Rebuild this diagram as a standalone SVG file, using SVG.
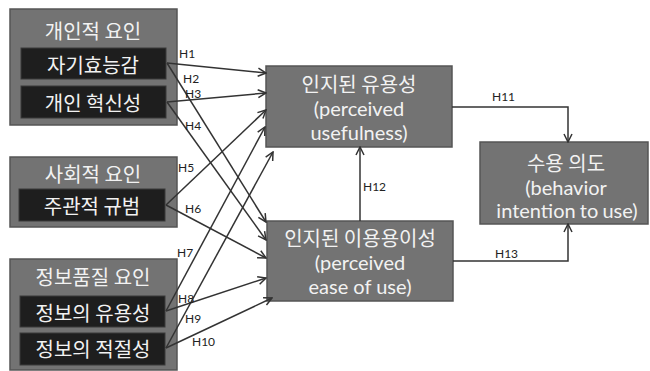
<svg xmlns="http://www.w3.org/2000/svg" width="650" height="371" viewBox="0 0 650 371">
<defs>
<style>
.box{fill:#737373;stroke:#555555;stroke-width:1.5}
.inner{fill:#1e1e1e;stroke:#3a3a3a;stroke-width:1}
.kt{font-family:"Noto Sans CJK KR",sans-serif;font-size:20px;fill:#f2f2f2;text-anchor:middle;dominant-baseline:central}
.lt{font-family:Lato,"Noto Sans CJK KR",sans-serif;font-size:20px;fill:#f2f2f2;text-anchor:middle;dominant-baseline:central}
.lbl{font-family:Lato,sans-serif;font-size:12px;fill:#222222}
.c{fill:none;stroke:#333333;stroke-width:1.5}
</style>
<marker id="ah" viewBox="0 0 10 10" refX="9" refY="5" markerWidth="10" markerHeight="10" markerUnits="userSpaceOnUse" orient="auto">
<path d="M1,1 L9,5 L1,9" fill="none" stroke="#333333" stroke-width="1.5"/>
</marker>
</defs>
<rect width="650" height="371" fill="#ffffff"/>
<g id="personal">
<rect class="box" x="10" y="9" width="167" height="116"/>
<text class="kt" x="93" y="30">개인적 요인</text>
<g id="self-efficacy"><rect class="inner" x="21" y="48" width="145" height="31"/><text class="kt" x="93" y="64">자기효능감</text></g>
<g id="innovativeness"><rect class="inner" x="21" y="86" width="145" height="32"/><text class="kt" x="93" y="102">개인 혁신성</text></g>
</g>
<g id="social">
<rect class="box" x="10" y="157" width="167" height="70"/>
<text class="kt" x="93" y="173">사회적 요인</text>
<g id="subjective-norm"><rect class="inner" x="19" y="189" width="146" height="32"/><text class="kt" x="92" y="205">주관적 규범</text></g>
</g>
<g id="infoquality">
<rect class="box" x="10" y="259" width="167" height="111"/>
<text class="kt" x="93" y="276">정보품질 요인</text>
<g id="info-usefulness"><rect class="inner" x="20" y="296" width="145" height="31"/><text class="kt" x="93" y="312">정보의 유용성</text></g>
<g id="info-relevance"><rect class="inner" x="20" y="333" width="145" height="32"/><text class="kt" x="93" y="348">정보의 적절성</text></g>
</g>
<g id="pu">
<rect class="box" x="266" y="66" width="186" height="81"/>
<text class="kt" x="359" y="83">인지된 유용성</text>
<text class="lt" x="359" y="108">(perceived</text>
<text class="lt" x="359" y="132">usefulness)</text>
</g>
<g id="peou">
<rect class="box" x="267" y="221" width="186" height="80"/>
<text class="kt" x="360" y="237">인지된 이용용이성</text>
<text class="lt" x="360" y="262">(perceived</text>
<text class="lt" x="360" y="286">ease of use)</text>
</g>
<g id="bi">
<rect class="box" x="480" y="142" width="168" height="82"/>
<text class="kt" x="566" y="162">수용 의도</text>
<text class="lt" x="566" y="187">(behavior</text>
<text class="lt" x="567" y="210" word-spacing="-1">intention to use)</text>
</g>
<g id="connectors">
<path class="c" marker-end="url(#ah)" d="M167,63 L266,73"/>
<path class="c" marker-end="url(#ah)" d="M167,63 L266,222"/>
<path class="c" marker-end="url(#ah)" d="M167,102 L266,93"/>
<path class="c" marker-end="url(#ah)" d="M167,102 L266,240"/>
<path class="c" marker-end="url(#ah)" d="M166,205 L266,110"/>
<path class="c" marker-end="url(#ah)" d="M166,205 L266,258"/>
<path class="c" marker-end="url(#ah)" d="M166,311 L265,127"/>
<path class="c" marker-end="url(#ah)" d="M166,311 L266,278"/>
<path class="c" marker-end="url(#ah)" d="M166,348 L273,152"/>
<path class="c" marker-end="url(#ah)" d="M166,348 L272,298"/>
<path class="c" marker-end="url(#ah)" d="M452,107 L568,107 L568,142"/>
<path class="c" marker-end="url(#ah)" d="M360,221 L360,147"/>
<path class="c" marker-end="url(#ah)" d="M453,261 L568,261 L568,224"/>
<text class="lbl" x="179" y="58">H1</text>
<text class="lbl" x="183" y="83">H2</text>
<text class="lbl" x="185" y="98">H3</text>
<text class="lbl" x="185" y="130">H4</text>
<text class="lbl" x="178" y="172">H5</text>
<text class="lbl" x="185" y="213">H6</text>
<text class="lbl" x="177" y="257">H7</text>
<text class="lbl" x="178" y="303">H8</text>
<text class="lbl" x="185" y="323">H9</text>
<text class="lbl" x="192" y="346">H10</text>
<text class="lbl" x="492" y="101">H11</text>
<text class="lbl" x="363" y="191">H12</text>
<text class="lbl" x="495" y="258">H13</text>
</g>
</svg>
